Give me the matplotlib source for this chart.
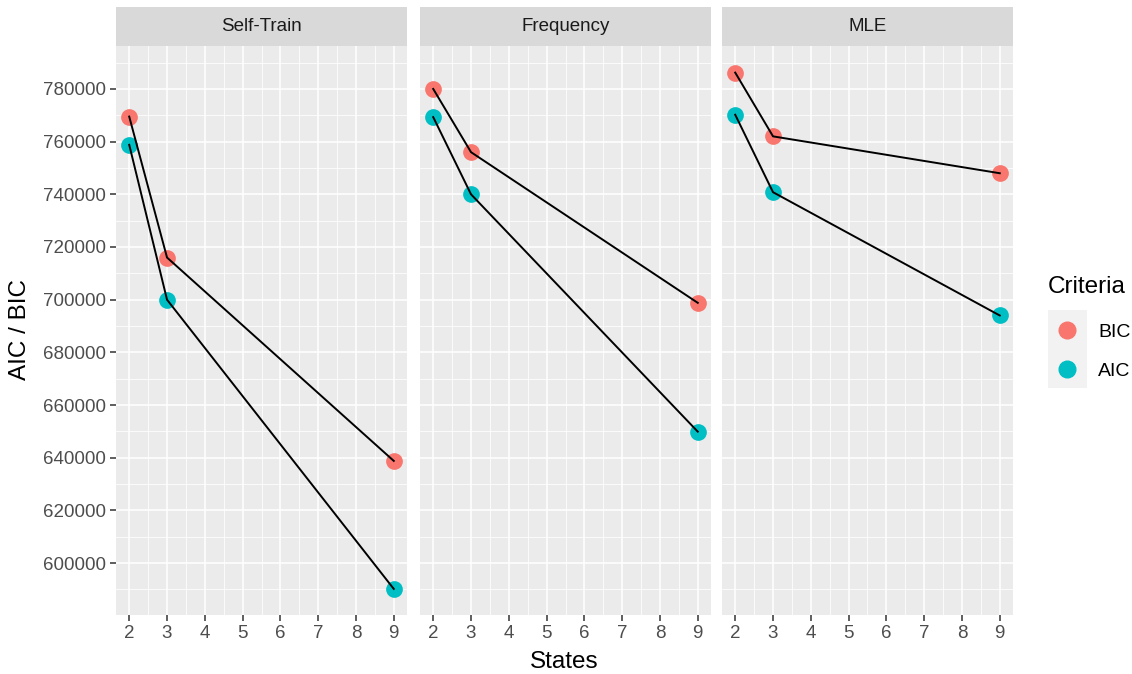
import matplotlib.pyplot as plt
from matplotlib.lines import Line2D
from matplotlib.patches import Rectangle
from matplotlib.ticker import MultipleLocator

plt.rcParams['font.family'] = ['Liberation Sans', 'DejaVu Sans']

panels = ["Self-Train", "Frequency", "MLE"]
states = [2, 3, 9]
bic_values = [[769500, 716000, 638800],
              [780000, 756000, 698800],
              [786200, 762000, 748000]]
aic_values = [[758800, 700000, 590200],
              [769300, 740000, 649900],
              [770200, 740800, 694000]]
y_ticks = [600000, 620000, 640000, 660000, 680000, 700000, 720000, 740000, 760000, 780000]
x_ticks = [2, 3, 4, 5, 6, 7, 8, 9]

col_bic = "#F8766D"
col_aic = "#00BFC4"
bg = "#EBEBEB"

W, H = 1132, 674
fig = plt.figure(figsize=(W / 100, H / 100), dpi=100)

lefts = [116, 420, 722]
pw = 291
top, bottom = 46, 615

for i, name in enumerate(panels):
    ax = fig.add_axes([lefts[i] / W, (H - bottom) / H, pw / W, (bottom - top) / H])
    ax.set_facecolor(bg)
    for s in ax.spines.values():
        s.set_visible(False)
    ax.set_xlim(1.65, 9.35)
    ax.set_ylim(580300, 796300)
    ax.set_xticks(x_ticks)
    ax.set_yticks(y_ticks)
    ax.xaxis.set_minor_locator(MultipleLocator(0.5))
    ax.yaxis.set_minor_locator(MultipleLocator(10000))
    ax.grid(which='major', color='white', lw=1.1)
    ax.grid(which='minor', color='white', lw=0.55)
    ax.set_axisbelow(True)
    ax.tick_params(which='minor', length=0)
    ax.tick_params(which='major', length=4, width=1.1, color='#333333',
                   labelcolor='#4D4D4D', labelsize=13.5, pad=3)
    if i > 0:
        ax.tick_params(axis='y', left=False, labelleft=False)
    else:
        ax.set_yticklabels([str(v) for v in y_ticks])

    ax.scatter(states, bic_values[i], s=145, color=col_bic, zorder=3, linewidths=0)
    ax.scatter(states, aic_values[i], s=145, color=col_aic, zorder=3, linewidths=0)
    ax.plot(states, bic_values[i], color='black', lw=1.4, zorder=4)
    ax.plot(states, aic_values[i], color='black', lw=1.4, zorder=4)

    sax = fig.add_axes([lefts[i] / W, (H - top) / H, pw / W, 39 / H])
    sax.set_facecolor('#D9D9D9')
    sax.set_xticks([])
    sax.set_yticks([])
    for s in sax.spines.values():
        s.set_visible(False)
    sax.text(0.5, 0.5, name, ha='center', va='center', fontsize=13.5,
             color='#1A1A1A', transform=sax.transAxes)

fig.text(0.5 * (116 + 1012) / W, 1 - 662 / H, "States", ha='center', va='center',
         fontsize=17.5, color='black')
fig.text(20 / W, 1 - 329 / H, "AIC / BIC", ha='center', va='center',
         rotation=90, fontsize=17.5, color='black')

# legend
fig.patches.append(Rectangle((1048 / W, 1 - 388 / H), 39 / W, 78 / H,
                             transform=fig.transFigure, facecolor='#F2F2F2',
                             edgecolor='none', zorder=0))
handles = [Line2D([], [], marker='o', ls='none', color=col_bic, markersize=12),
           Line2D([], [], marker='o', ls='none', color=col_aic, markersize=12)]
fig.text(1048 / W, 1 - 287 / H, "Criteria", ha='left', va='center', fontsize=17.5)
leg = fig.legend(handles, ["BIC", "AIC"], loc='upper left',
                 bbox_to_anchor=(1051.5 / W, 1 - 323 / H), frameon=False,
                 fontsize=14, handlelength=1.6, handletextpad=0.8,
                 labelspacing=1.1, borderaxespad=0, borderpad=0)

fig.savefig("out.png", dpi=100)
